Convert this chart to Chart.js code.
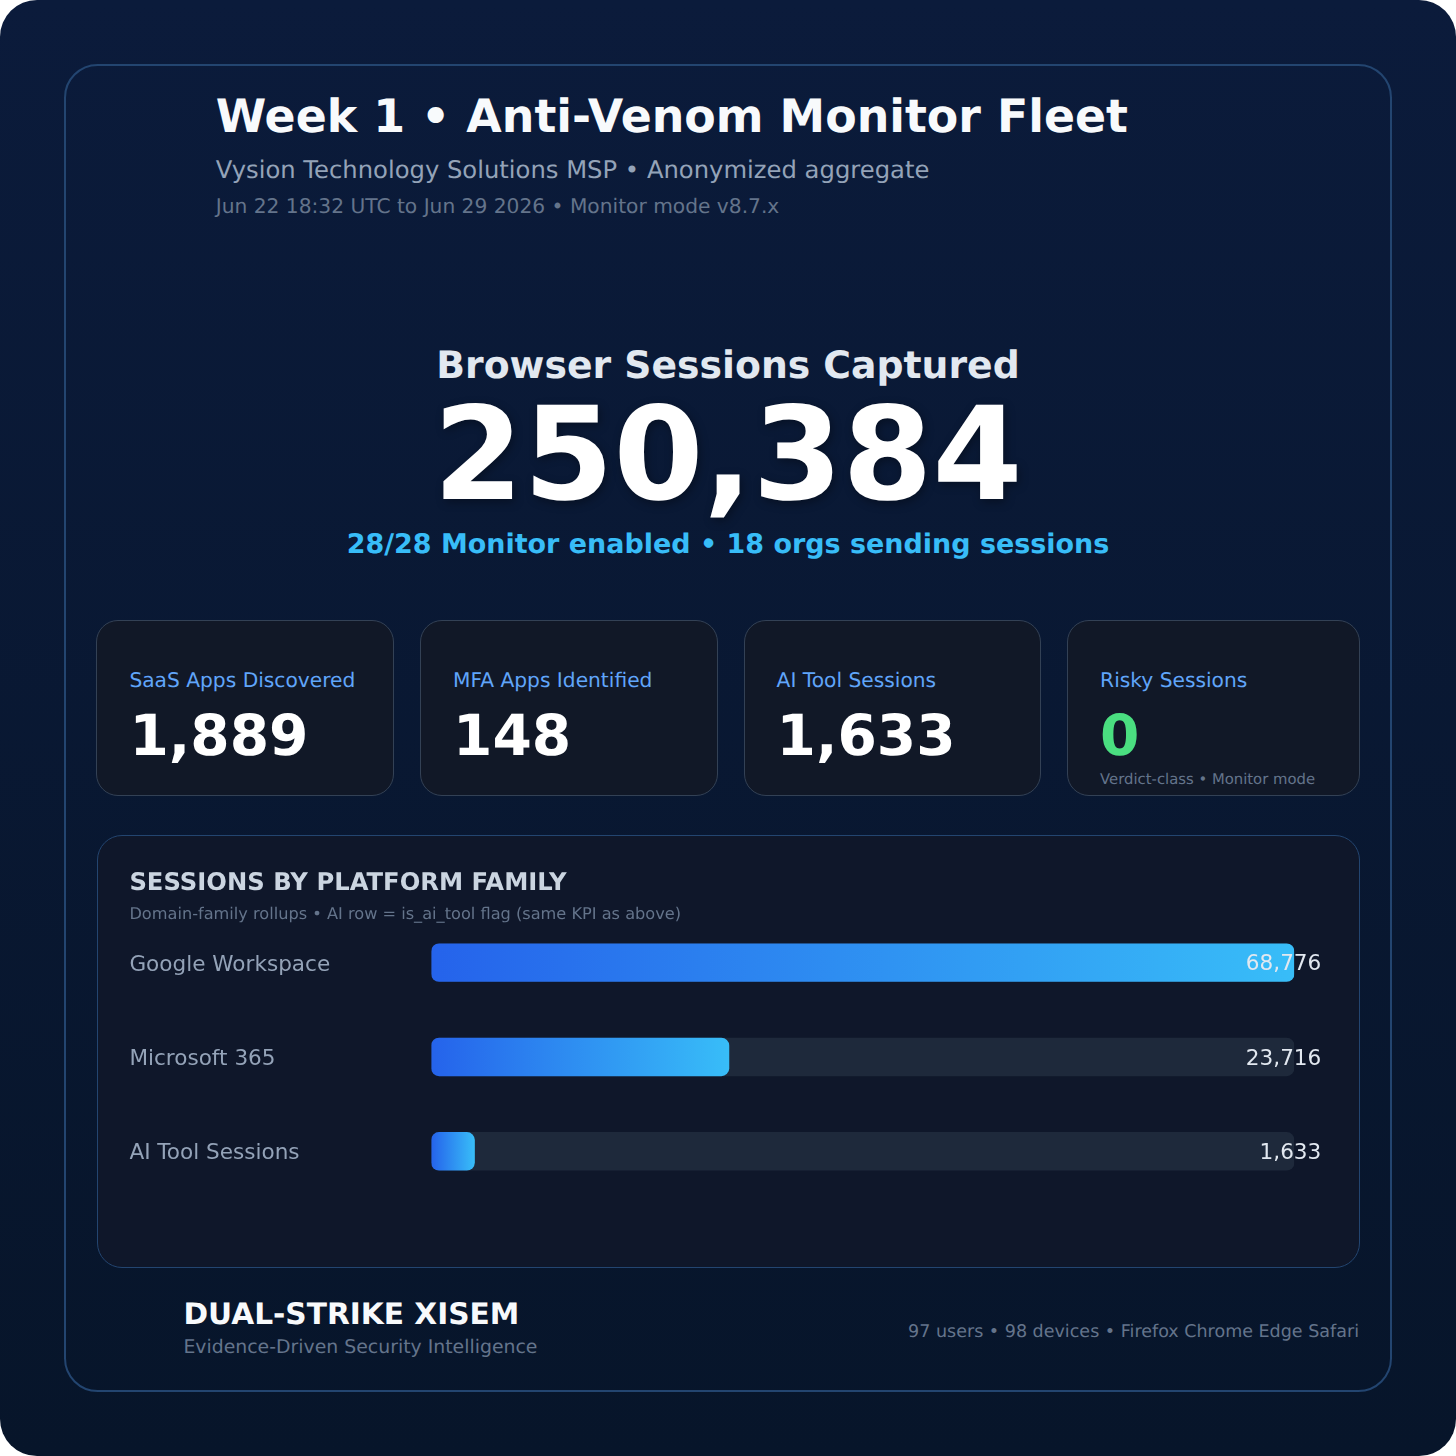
<!DOCTYPE html>
<html>
<head>
<meta charset="utf-8">
<title>Week 1 Anti-Venom Monitor Fleet</title>
<script src="https://cdn.jsdelivr.net/npm/chart.js@4"></script>
<style>
  html, body { margin: 0; padding: 0; background: #fff; }
  body { width: 1456px; height: 1456px; overflow: hidden; position: relative; font-family: "DejaVu Sans", sans-serif; text-rendering: geometricPrecision; }
  #bg { position: absolute; left: 0; top: 0; width: 1456px; height: 1456px; border-radius: 37px;
        background: linear-gradient(180deg, #0b1b3b 0%, #07152a 100%); }
  .box { position: absolute; box-sizing: border-box; }
  #frame { left: 63.6px; top: 63.6px; width: 1328.8px; height: 1328.8px; border: 2.7px solid #234570; border-radius: 33.7px; }
  .card { top: 619.6px; height: 176.4px; background: #111827; border: 1.35px solid #334155; border-radius: 22px; }
  #panel { left: 96.5px; top: 835.3px; width: 1263px; height: 432.6px; background: #0f172a; border: 1.35px solid #234570; border-radius: 25px; }
  .t { position: absolute; white-space: nowrap; line-height: 1; }
  #wrap { position: absolute; left: 97px; top: 836px; width: 1262px; height: 431px; }
</style>
</head>
<body>
<div id="bg"></div>
<div class="box" id="frame"></div>
<div class="box card" style="left:96.4px;width:297.6px"></div>
<div class="box card" style="left:420px;width:297.6px"></div>
<div class="box card" style="left:743.5px;width:297.6px"></div>
<div class="box card" style="left:1067.1px;width:292.5px"></div>
<div class="box" id="panel"></div>
<div id="wrap"><canvas id="platformChart" width="1262" height="431"></canvas></div>
<div id="texts"></div>

<script>
// bar chart data
const platforms = ['Google Workspace', 'Microsoft 365', 'AI Tool Sessions'];
const sessions = [68776, 23716, 1633];
const trackMax = [68776, 68776, 68776];

// kpi cards
const kpiLabels = ['SaaS Apps Discovered', 'MFA Apps Identified', 'AI Tool Sessions', 'Risky Sessions'];
const kpiValues = ['1,889', '148', '1,633', '0'];
const kpiX = [129.4, 453, 776.6, 1100.1];

function addText(str, x, baseline, size, color, weight, align) {
    const el = document.createElement('div');
    el.className = 't';
    el.textContent = str;
    el.style.fontSize = size + 'px';
    el.style.color = color;
    el.style.fontWeight = weight || 'normal';
    // DejaVu ascent is about .928 and descent .236 of the em, line-height 1 centres that box
    el.style.top = (baseline - size * 0.846) + 'px';
    if (align === 'center') { el.style.left = x + 'px'; el.style.transform = 'translateX(-50%)'; }
    else if (align === 'right') { el.style.right = (1456 - x) + 'px'; }
    else el.style.left = x + 'px';
    document.getElementById('texts').appendChild(el);
    return el;
}

addText('Week 1 • Anti-Venom Monitor Fleet', 215.7, 133, 45.84, '#f8fafc', 'bold');
addText('Vysion Technology Solutions MSP • Anonymized aggregate', 215.7, 179, 24.27, '#94a3b8');
addText('Jun 22 18:32 UTC to Jun 29 2026 • Monitor mode v8.7.x', 215.7, 213, 20.22, '#64748b');
addText('Browser Sessions Captured', 728, 379, 37.75, '#e2e8f0', 'bold', 'center');
addText('250,384', 728, 499, 129.4, '#ffffff', 'bold', 'center').style.textShadow = '2px 3px 10px rgba(0,0,0,.35)';
addText('28/28 Monitor enabled • 18 orgs sending sessions', 728, 554.5, 26.96, '#38bdf8', 'bold', 'center');

kpiLabels.forEach((lab, i) => {
    addText(lab, kpiX[i], 687.5, 20.22, '#60a5fa');
    addText(kpiValues[i], kpiX[i], 756, 56.6, i === 3 ? '#4ade80' : '#ffffff', 'bold');
});
addText('Verdict-class • Monitor mode', 1100.1, 786, 14.83, '#64748b');

addText('SESSIONS BY PLATFORM FAMILY', 129.4, 891, 24.27, '#cbd5e1', 'bold');
addText('Domain-family rollups • AI row = is_ai_tool flag (same KPI as above)', 129.4, 920, 16.18, '#64748b');

addText('DUAL-STRIKE XISEM', 183.4, 1324, 29.66, '#f8fafc', 'bold');
addText('Evidence-Driven Security Intelligence', 183.4, 1354, 18.87, '#64748b');
addText('97 users • 98 devices • Firefox Chrome Edge Safari', 1359, 1339, 17.53, '#64748b', 'normal', 'right');

// left to right gradient across the length of each bar
function barGradient(ctx) {
    const chart = ctx.chart;
    const x = chart.scales.x;
    const left = x ? x.getPixelForValue(0) : NaN;
    const end = x ? x.getPixelForValue(sessions[ctx.dataIndex]) : NaN;
    // the scale has no pixels yet on the first option pass
    if (!Number.isFinite(left) || !Number.isFinite(end)) return '#2563eb';
    const g = chart.ctx.createLinearGradient(left, 0, Math.max(end, left + 43.1), 0);
    g.addColorStop(0, '#2563eb');
    g.addColorStop(1, '#38bdf8');
    return g;
}

// number at the end of each track
const valueLabels = {
    id: 'valueLabels',
    afterDraw(chart) {
        const c = chart.ctx;
        const meta = chart.getDatasetMeta(1);
        c.save();
        c.font = '21.57px "DejaVu Sans"';
        c.fillStyle = '#e2e8f0';
        c.textAlign = 'right';
        c.textBaseline = 'middle';
        sessions.forEach((v, i) => {
            c.fillText(v.toLocaleString('en-US'), 1224.3, meta.data[i].y + 2);
        });
        c.restore();
    }
};

const canvas = document.getElementById('platformChart');
canvas.getContext('2d').textRendering = 'geometricPrecision';

new Chart(canvas, {
    type: 'bar',
    data: {
        labels: platforms,
        datasets: [
            {
                label: 'Sessions',
                data: sessions,
                backgroundColor: barGradient,
                borderRadius: 8,
                borderSkipped: false,
                barThickness: 37.75,
                minBarLength: 43.1,
                order: 1
            },
            {
                label: 'Track',
                data: trackMax,
                backgroundColor: '#1e293b',
                borderRadius: 8,
                borderSkipped: false,
                barThickness: 37.75,
                order: 2
            }
        ]
    },
    options: {
        indexAxis: 'y',
        responsive: false,
        animation: false,
        devicePixelRatio: 1,
        layout: { padding: { left: 32.4, right: 64.8, top: 79.4, bottom: 68.5 } },
        plugins: { legend: { display: false }, tooltip: { enabled: false } },
        datasets: { bar: { grouped: false } },
        scales: {
            x: { display: false, min: 0, max: 68776 },
            y: {
                afterFit(scale) { scale.width = 302; },
                border: { display: false },
                grid: { display: false, drawTicks: false },
                ticks: {
                    crossAlign: 'far',
                    padding: 0,
                    labelOffset: 2.5,
                    color: '#94a3b8',
                    font: { family: '"DejaVu Sans"', size: 21.57, lineHeight: 1 }
                }
            }
        }
    },
    plugins: [valueLabels]
});
</script>
</body>
</html>
